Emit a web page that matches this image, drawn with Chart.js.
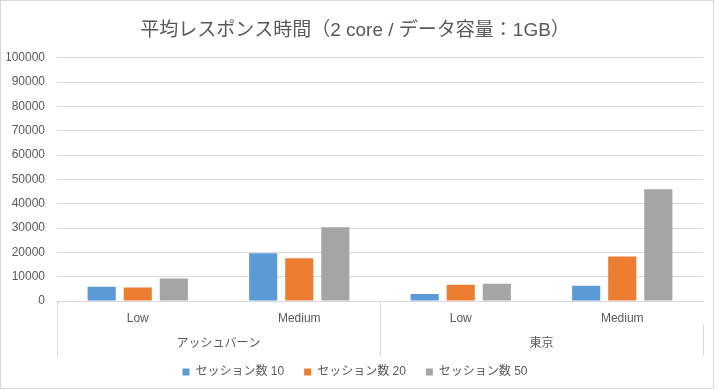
<!DOCTYPE html>
<html>
<head>
<meta charset="utf-8">
<script src="https://cdn.jsdelivr.net/npm/chart.js@4/dist/chart.umd.min.js"></script>
<style>
    body { margin: 0; background: #fff; }
    #box {
        width: 712px;
        height: 387px;
        border: 1px solid #d9d9d9;
        position: relative;
    }
</style>
</head>
<body>
<div id="box"><canvas id="chart"></canvas></div>
<script>
// data
const levels = ["Low", "Medium", "Low", "Medium"];
const regions = ["アッシュバーン", "東京"];
const seriesNames = ["セッション数 10", "セッション数 20", "セッション数 50"];
const session10 = [5900, 19600, 2900, 6300];
const session20 = [5500, 17600, 6700, 18300];
const session50 = [9300, 30300, 7100, 46000];
const colors = ["#5B9BD5", "#ED7D31", "#A5A5A5"];

const fontFamily = "'Liberation Sans', 'Noto Sans CJK JP', sans-serif";
const textColor = "#595959";
const lineColor = "#d9d9d9";

const ctx = document.getElementById("chart").getContext("2d");

new Chart(ctx, {
    type: "bar",
    data: {
        labels: levels,
        datasets: [session10, session20, session50].map((vals, i) => ({
            label: seriesNames[i],
            data: vals,
            backgroundColor: colors[i],
            categoryPercentage: 0.67,
            barPercentage: 0.78
        }))
    },
    options: {
        responsive: true,
        maintainAspectRatio: false,
        animation: false,
        layout: {
            padding: { left: 6, right: 10, top: 0, bottom: 0 }
        },
        plugins: {
            title: {
                display: true,
                text: "平均レスポンス時間（2 core / データ容量：1GB）",
                color: textColor,
                font: { family: fontFamily, size: 19, weight: "normal" },
                padding: { top: 18, bottom: 16 }
            },
            legend: {
                position: "bottom",
                labels: {
                    color: textColor,
                    font: { family: fontFamily, size: 12 },
                    boxWidth: 7,
                    boxHeight: 7,
                    padding: 14,
                    // a little extra room between the items
                    generateLabels: chart =>
                        Chart.defaults.plugins.legend.labels.generateLabels(chart)
                            .map((item, i, arr) => ({
                                ...item,
                                text: i < arr.length - 1 ? item.text + "\u2002" : item.text
                            }))
                }
            },
            tooltip: { enabled: false }
        },
        scales: {
            y: {
                min: 0,
                max: 100000,
                ticks: {
                    stepSize: 10000,
                    color: textColor,
                    font: { family: fontFamily, size: 12 },
                    padding: 12,
                    callback: v => String(v)
                },
                grid: { color: lineColor, drawTicks: false },
                border: { display: false },
                afterFit: s => { s.width = 50; }
            },
            // first level: Low / Medium
            x: {
                position: "bottom",
                weight: 0,
                ticks: {
                    color: textColor,
                    font: { family: fontFamily, size: 12 },
                    padding: -13,
                    autoSkip: false,
                    maxRotation: 0
                },
                grid: {
                    offset: true,
                    drawOnChartArea: false,
                    tickLength: 23,
                    color: c => (c.index % 2 === 0 ? lineColor : "transparent")
                },
                border: { display: true, color: lineColor },
                afterFit: s => { s.height = 23; }
            },
            // second level: region
            x2: {
                type: "category",
                position: "bottom",
                weight: 1,
                labels: regions,
                offset: true,
                ticks: {
                    color: textColor,
                    font: { family: fontFamily, size: 12 },
                    padding: -20,
                    maxRotation: 0
                },
                grid: {
                    offset: true,
                    drawOnChartArea: false,
                    tickLength: 32,
                    color: lineColor
                },
                border: { display: false },
                afterFit: s => { s.height = 28; }
            }
        }
    }
});
</script>
</body>
</html>
